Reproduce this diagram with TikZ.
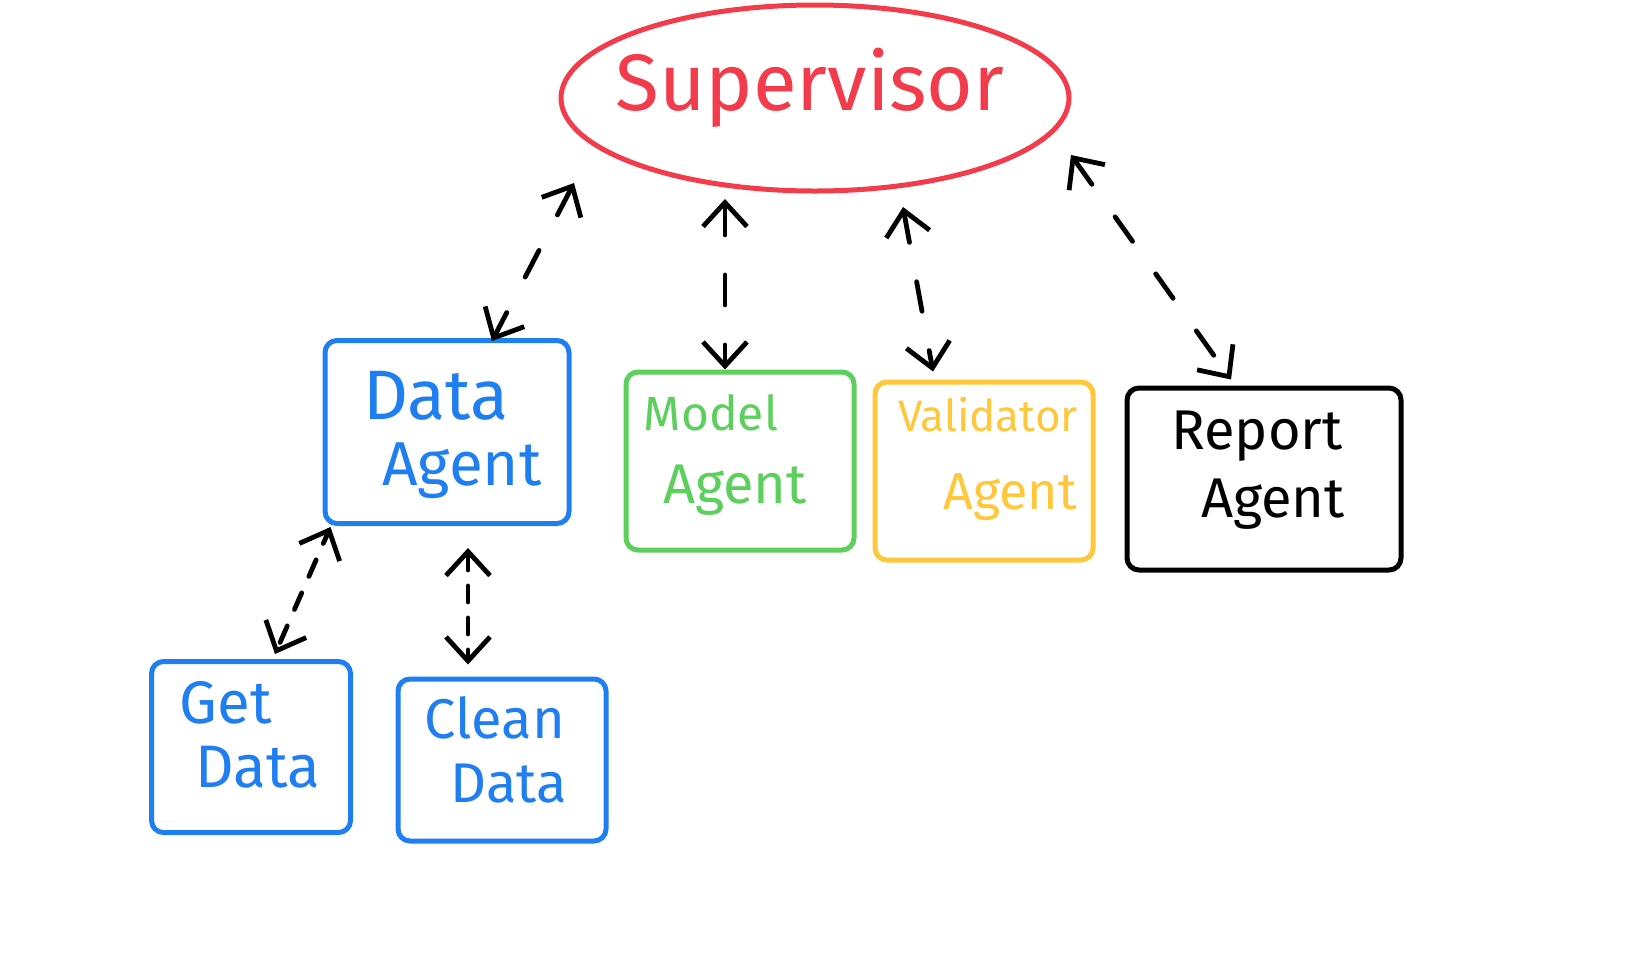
\documentclass[tikz,border=0pt]{standalone}
\usepackage{fontspec}
\setmainfont{Fira Sans}
\usetikzlibrary{arrows.meta,calc,shapes.geometric}
\definecolor{cred}{HTML}{F23C4B}
\definecolor{cblue}{HTML}{1F7FF0}
\definecolor{cgreen}{HTML}{5CCF5C}
\definecolor{cyellow}{HTML}{FFC83C}
\tikzset{
  box/.style={draw=#1, line width=2.5pt, rounded corners=6pt, inner sep=0pt},
  txt/.style={text=#1, align=center, inner sep=0pt},
  link/.style={draw=black, line width=2.4pt, line cap=round, dash pattern=on 15pt off 20pt,
    {Straight Barb[length=12pt,width=22pt,line width=2.4pt]}-{Straight Barb[length=12pt,width=22pt,line width=2.4pt]}}
}
\begin{document}
\begin{tikzpicture}[x=0.5pt,y=-0.5pt]
\path[use as bounding box, fill=white] (0,0) rectangle (1643,970);
% nodes
\node[ellipse, draw=cred, line width=2.5pt, minimum width=254pt, minimum height=93pt, inner sep=0pt] (sup) at (815,98) {};
\node[txt=cred, font=\fontsize{40}{44}\selectfont] (suptxt) at (810,88) {Supervisor};

\node[box=cblue, minimum width=122pt, minimum height=91.5pt] (data) at (447,432) {};
\node[txt=cblue] (datatxt) at (440,435) {{\fontsize{35}{35}\selectfont Data}\hspace*{4pt}\\[10pt]\hspace*{22pt}{\fontsize{31}{31}\selectfont Agent}};

\node[box=cgreen, minimum width=114pt, minimum height=89pt] (model) at (740,461) {};
\node[txt=cgreen] (modeltxt) at (735,455) {{\fontsize{24}{24}\selectfont Model}\hspace*{24pt}\\[16pt]{\fontsize{28}{28}\selectfont Agent}};

\node[box=cyellow, minimum width=109pt, minimum height=89pt] (valid) at (984,471) {};
\node[txt=cyellow] (validtxt) at (988,459) {{\fontsize{22}{22}\selectfont Validator}\\[20pt]\hspace*{22pt}{\fontsize{26}{26}\selectfont Agent}};

\node[box=black, minimum width=137pt, minimum height=91pt] (report) at (1264,479) {};
\node[txt=black, font=\fontsize{28}{34}\selectfont] (reporttxt) at (1257,470) {Report\\\hspace*{16pt}Agent};

\node[box=cblue, minimum width=99.5pt, minimum height=85.5pt] (get) at (251,747) {};
\node[txt=cblue, font=\fontsize{30}{32}\selectfont] (gettxt) at (240,735) {Get\hspace*{14pt}\\\hspace*{18pt}Data};

\node[box=cblue, minimum width=104pt, minimum height=81pt] (clean) at (502,760) {};
\node[txt=cblue, font=\fontsize{28}{32}\selectfont] (cleantxt) at (495,750) {Clean\\\hspace*{14pt}Data};

% connectors
\draw[link] ($(sup.center)+(-241,85)$) -- ($(data.north)+(45,3)$);
\draw[link] ($(sup.center)+(-90,101)$) -- ($(model.north)+(-15,0)$);
\draw[link] ($(sup.center)+(88,109)$) -- ($(valid.north)+(-51,-8)$);
\draw[link] ($(sup.center)+(256,57)$) -- ($(report.north)+(-33,-6)$);
\draw[link, dash pattern=on 9pt off 9pt, dash phase=3pt] ($(data.south west)+(8,1)$) -- ($(get.north)+(24,-5)$);
\draw[link, dash pattern=on 8pt off 8pt, dash phase=0pt] ($(data.south)+(21,22)$) -- ($(clean.north)+(-34,-12)$);
\end{tikzpicture}
\end{document}
